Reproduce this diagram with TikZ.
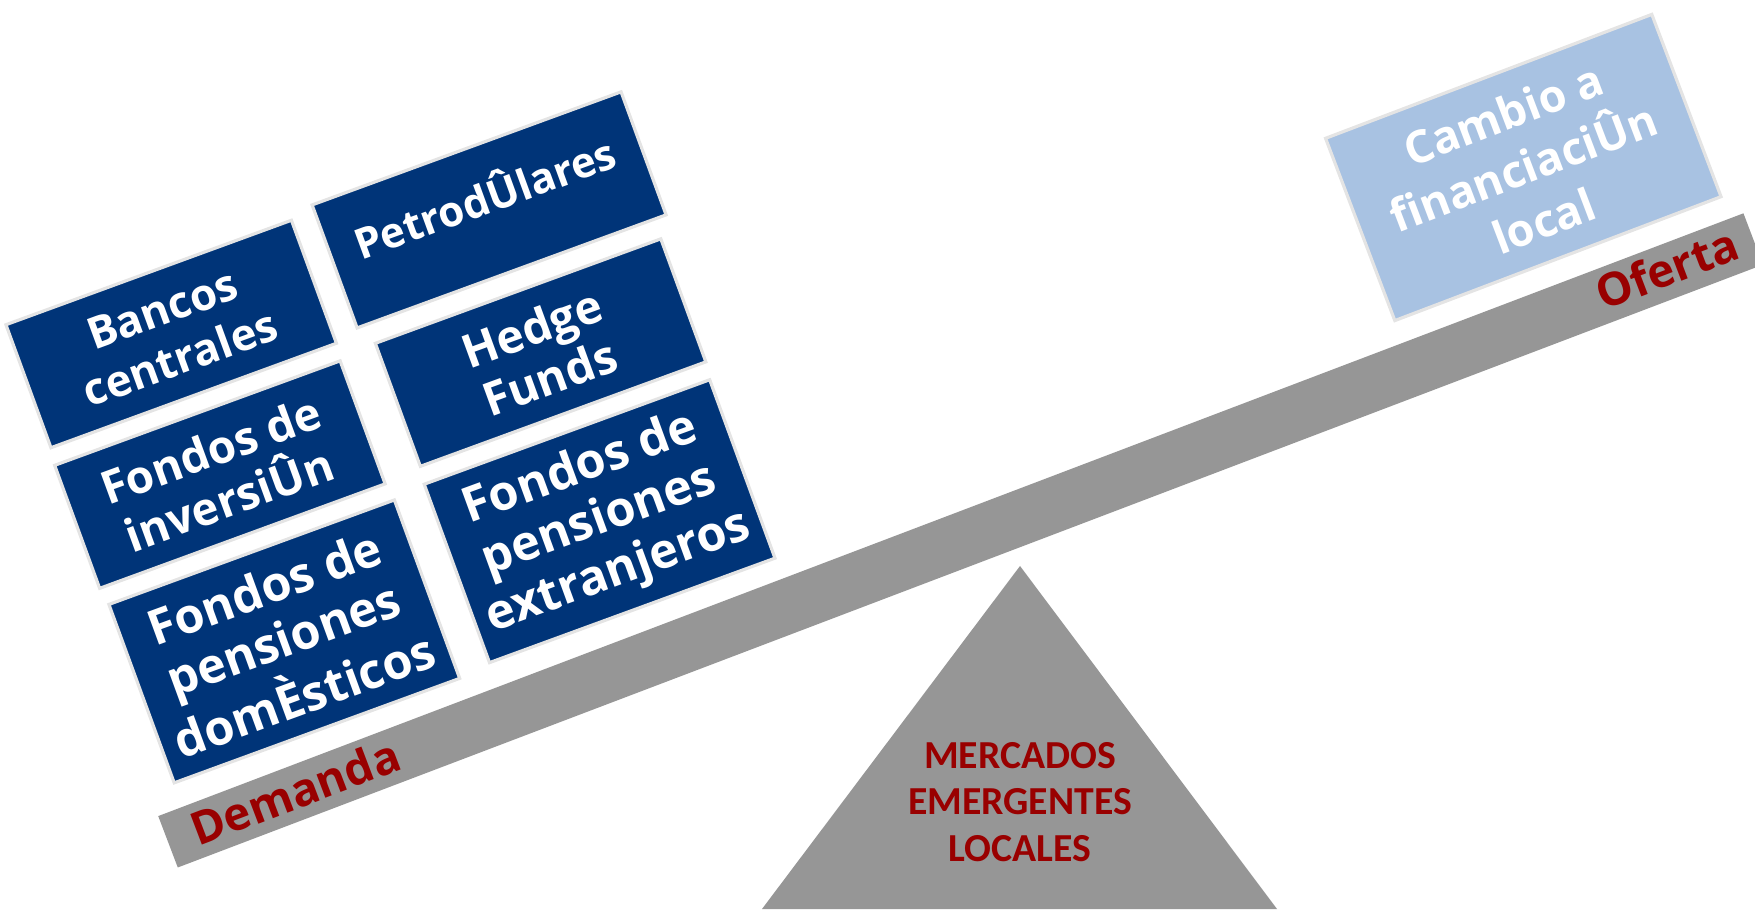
\documentclass[tikz,border=0pt]{standalone}
\usepackage{fontspec}
\setmainfont{Open Sans}
\newfontfamily\calfont{Carlito}
\usepackage{tikz}
\usetikzlibrary{positioning}

\definecolor{azul}{RGB}{0,52,120}
\definecolor{celeste}{RGB}{168,194,226}
\definecolor{gris}{RGB}{150,150,150}
\definecolor{borde}{RGB}{228,228,228}
\definecolor{rojo}{RGB}{153,0,0}

\tikzset{
  caja/.style={draw=borde, line width=0.9pt, fill=azul, text=white, align=center,
    inner sep=0pt, rotate=20.1, minimum width=3.04cm, minimum height=1.31cm,
    font=\bfseries\fontsize{13.8}{15.6}\selectfont},
  cajaalta/.style={caja, minimum height=1.90cm},
  cajaclara/.style={caja, fill=celeste, rotate=0.7, minimum width=3.49cm,
    minimum height=1.95cm, font=\bfseries\fontsize{12.8}{16.2}\selectfont},
  etiqueta/.style={text=rojo, inner sep=0pt, rotate=20.8,
    font=\bfseries\fontsize{13}{15}\selectfont},
  barra/.style={fill=gris, inner sep=0pt, rotate=20.82,
    minimum width=16.96cm, minimum height=0.55cm}
}

\begin{document}
\begin{tikzpicture}[x=1cm,y=1cm]
 \useasboundingbox (0,0) rectangle (17.55,9.09);

 % la balanza
 \node[barra] (barra) at (9.606,3.686) {};
 \fill[gris] (10.20,3.43) -- (12.77,0) -- (7.62,0) -- cycle; % el soporte
 \node[text=rojo, align=center, inner sep=0pt,
       font=\calfont\bfseries\fontsize{11.3}{13.2}\selectfont]
       (mercados) at (10.20,1.07) {MERCADOS\\EMERGENTES\\LOCALES};

 \node[etiqueta] (demanda) at (2.95,1.173) {Demanda};
 \node[etiqueta] (oferta) at (16.667,6.407) {Oferta};

 % lado de la demanda
 \node[caja, font=\bfseries\fontsize{12.5}{14.8}\selectfont] (bancos) at (1.712,5.750) {Bancos\\centrales};
 \node[caja, minimum width=3.29cm, font=\bfseries\fontsize{12}{14}\selectfont] (petro) at (4.891,6.991)
      {\raisebox{4.5pt}[\height][\depth]{PetrodÛlares}};
 \node[caja, font=\bfseries\fontsize{13.2}{15}\selectfont] (hedge) at (5.406,5.564) {Hedge\\Funds};
 \node[caja, font=\bfseries\fontsize{13}{15}\selectfont] (inversion) at (2.199,4.344) {Fondos de\\inversiÛn};
 \node[cajaalta] (extranjeros) at (5.996,3.878) {Fondos de\\pensiones\\extranjeros};
 \node[cajaalta] (domesticos) at (2.843,2.676) {Fondos de\\pensiones\\domÈsticos};

 % lado de la oferta
 \node[cajaclara] (cambio) at (15.233,7.415) {Cambio a\\financiaciÛn\\local};

\end{tikzpicture}
\end{document}
